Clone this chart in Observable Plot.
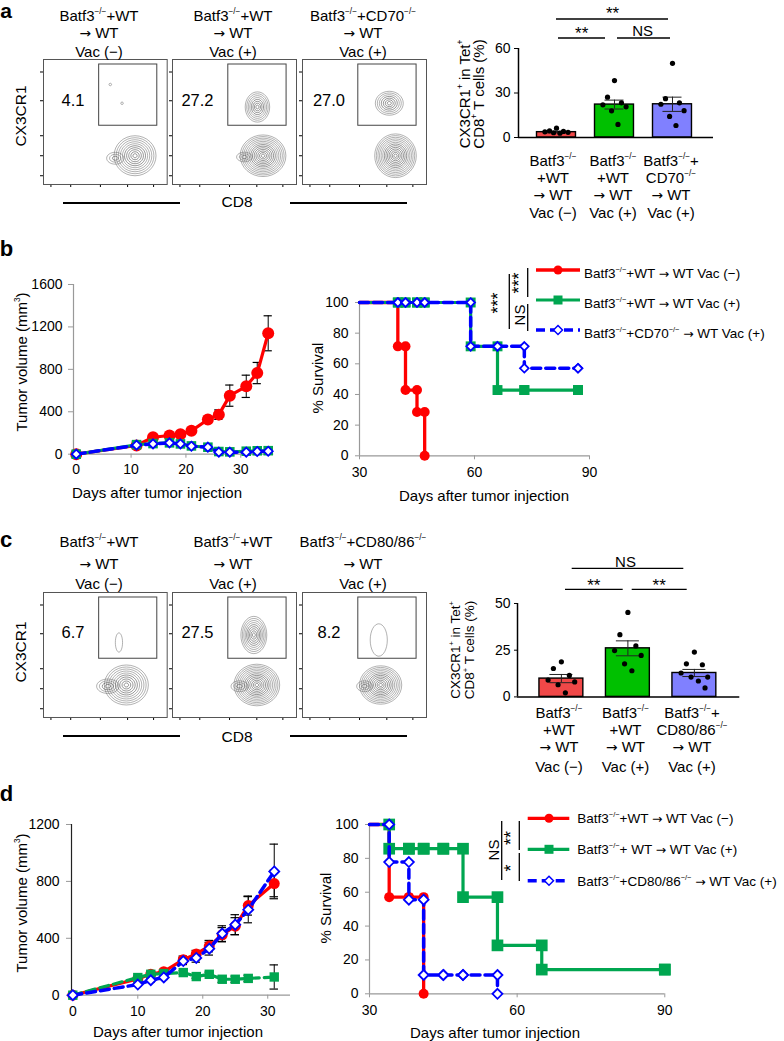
<!DOCTYPE html>
<html><head><meta charset="utf-8">
<script src="https://cdn.jsdelivr.net/npm/d3@7"></script>
<script src="https://cdn.jsdelivr.net/npm/@observablehq/plot@0.6"></script>
<style>
html,body{margin:0;padding:0;background:#fff}
#fig{position:relative;width:784px;height:1041px;overflow:hidden;background:#fff;font-family:"Liberation Sans",Arial,Helvetica,sans-serif;color:#000}
.t{position:absolute;white-space:nowrap;line-height:1}
.sp{font-size:55%;vertical-align:0.8em;line-height:0}
.ar{font-family:"DejaVu Sans",sans-serif;font-size:92%}
.gax text{fill:#000}
</style></head><body><div id="fig"></div>
<script>
const F = '"Liberation Sans", Arial, Helvetica, sans-serif';
const sup = s => `<span class="sp">${s}</span>`;
const AR = '<span class="ar">→</span>';
const KO = "−/−";

// ---------------- DATA ----------------
// Flow plots (panels a and c)
const flowPctA = ["4.1", "27.2", "27.0"];
const flowPctC = ["6.7", "27.5", "8.2"];
const gateX = [45, 92];
const gateY = [47, 96];
const flowTicksX = [6, 22, 46, 68, 89];
const flowTicksY = [7, 23, 39, 67, 90];
// contour populations: [x, y, rings, ring step (px), aspect x, aspect y]
const flowPopsA = [
  [[74, 23, 10, 2.0, 1.05, 1], [58, 21, 3, 2.2, 1.3, 0.9], [54, 80, 1, 1.3, 1, 1], [63.5, 65, 1, 1.3, 1, 1]],
  [[73, 23, 13, 1.6, 1.1, 1], [58, 22, 3, 2.0, 1.3, 0.8], [68.5, 62, 8, 1.8, 0.85, 1.05]],
  [[75, 23, 13, 1.6, 1.0, 1.05], [70, 65, 7, 1.9, 1.05, 0.9]]
];
const flowPopsC = [
  [[67, 26, 10, 2.0, 1.1, 1], [52, 25, 4, 2.0, 1.4, 0.9], [61, 60, 1, 6, 0.6, 1.6]],
  [[68, 26, 13, 1.6, 1.1, 1], [54, 25, 3, 2.0, 1.4, 0.9], [65.6, 66, 9, 1.8, 0.8, 1.15]],
  [[63, 26, 12, 1.6, 1.1, 1], [50, 25, 3, 2.0, 1.3, 0.9], [61.5, 62, 1, 9, 0.95, 1.8]]
];

// Bar charts
const barFill = ["#F04848", "#00C000", "#8080FF"];
const meanA = [3.6, 22.2, 22.4];
const semA = [0.5, 3.0, 4.8];
const dotsA = [
  [6.3, 4.5, 4.1, 3.8, 3.5, 3.2, 2.9],
  [38.4, 27.2, 23.4, 22.0, 20.7, 18.0, 8.8],
  [50.0, 26.2, 23.4, 22.4, 18.1, 14.2, 8.1]
];
const meanC = [9.8, 26.0, 12.8];
const semC = [2.2, 4.0, 1.9];
const dotsC = [
  [18.8, 15.2, 11.5, 9.0, 8.0, 6.5, 2.2],
  [45.2, 33.3, 27.3, 24.8, 22.2, 17.7, 14.0],
  [24.0, 17.7, 17.2, 12.8, 10.6, 10.6, 8.5, 4.8]
];

// Tumor growth (panel b)
const bDays = [0, 11, 14, 17, 19, 21, 24, 26, 28, 31, 33, 35];
const bRed = [0, 82, 160, 176, 188, 220, 327, 373, 552, 640, 765, 1140];
const bRedSem = [0, 10, 15, 15, 20, 25, 25, 45, 100, 105, 100, 165];
const bGreen = [0, 90, 100, 107, 97, 78, 66, 25, 22, 28, 32, 33];
const bBlue = [0, 85, 97, 107, 97, 75, 66, 19, 19, 19, 25, 28];

// Tumor growth (panel d)
const dDays = [0, 10, 12, 14, 17, 19, 21, 23, 25, 27, 31];
const dRed = [0, 115, 148, 165, 250, 290, 345, 425, 485, 630, 785];
const dRedSem = [0, 10, 15, 15, 25, 25, 40, 50, 60, 67, 93];
const dGreen = [0, 124, 147, 152, 159, 131, 147, 112, 112, 118, 128];
const dGreenSem = [0, 10, 10, 10, 12, 12, 15, 22, 22, 22, 85];
const dBlue = [0, 75, 105, 125, 240, 262, 327, 433, 496, 601, 870];
const dBlueSem = [0, 10, 15, 15, 25, 30, 45, 55, 70, 92, 192];

// Survival (panel b)
const bSurvDays = [40, 42, 45, 47, 59, 66, 73, 87];
const bSurvRed = [71.4, 42.9, 28.6, 0, null, null, null, null];
const bSurvGreen = [100, 100, 100, 100, 71.4, 42.9, 42.9, 42.9];
const bSurvBlue = [100, 100, 100, 100, 71.4, 71.4, 57.1, 57.1];
// Survival (panel d)
const dSurvDays = [34, 38, 41, 45, 49, 56, 65, 90];
const dSurvRed = [57.1, 57.1, 0, null, null, null, null, null];
const dSurvGreen = [85.7, 85.7, 85.7, 85.7, 57.1, 28.6, 14.3, 14.3];
const dSurvBlue = [77.8, 55.6, 11.1, 11.1, 11.1, 0, null, null];

const RED = "#FF0000", GREEN = "#00A650", BLUE = "#0000FF";

// ---------------- HELPERS ----------------
const fig = document.getElementById("fig");
function text(html, x, y, o = {}) {
  const d = document.createElement("div");
  d.className = "t";
  d.innerHTML = html;
  d.style.left = x + "px";
  d.style.top = y + "px";
  d.style.fontSize = (o.size || 15) + "px";
  if (o.bold) d.style.fontWeight = "bold";
  const ax = o.anchor === "start" ? "0" : o.anchor === "end" ? "-100%" : "-50%";
  d.style.transform = `translate(${ax},-50%)` + (o.rotate ? ` rotate(${o.rotate}deg)` : "");
  fig.appendChild(d);
}
function mkPlot(box, M, opts, cls) {
  const [ml, mr, mt, mb] = M;
  const w = box.x1 - box.x0, h = box.y1 - box.y0;
  const svg = Plot.plot(Object.assign({
    width: w + ml + mr, height: h + mt + mb,
    marginLeft: ml, marginRight: mr, marginTop: mt, marginBottom: mb,
    style: {fontFamily: F, fontSize: "14px", color: cls ? "#999" : "#000", background: "transparent", overflow: "visible"}
  }, opts));
  if (cls) svg.classList.add(cls);
  svg.style.position = "absolute";
  svg.style.left = (box.x0 - ml) + "px";
  svg.style.top = (box.y0 - mt) + "px";
  fig.appendChild(svg);
  return svg;
}
const ellipseSym = (ax, ay) => ({
  draw(ctx, size) {
    const r = Math.sqrt(size / Math.PI), rx = r * ax, ry = r * ay, k = 0.5523;
    ctx.moveTo(rx, 0);
    ctx.bezierCurveTo(rx, ry * k, rx * k, ry, 0, ry);
    ctx.bezierCurveTo(-rx * k, ry, -rx, ry * k, -rx, 0);
    ctx.bezierCurveTo(-rx, -ry * k, -rx * k, -ry, 0, -ry);
    ctx.bezierCurveTo(rx * k, -ry, rx, -ry * k, rx, 0);
    ctx.closePath();
  }
});

// overlay svg for brackets, legends and decoration lines
const NS = "http://www.w3.org/2000/svg";
const ov = document.createElementNS(NS, "svg");
ov.setAttribute("width", 784); ov.setAttribute("height", 1041);
ov.style.position = "absolute"; ov.style.left = "0"; ov.style.top = "0";
function seg(x1, y1, x2, y2, w = 1.3, c = "#000", dash) {
  const l = document.createElementNS(NS, "line");
  l.setAttribute("x1", x1); l.setAttribute("y1", y1); l.setAttribute("x2", x2); l.setAttribute("y2", y2);
  l.setAttribute("stroke", c); l.setAttribute("stroke-width", w);
  if (dash) l.setAttribute("stroke-dasharray", dash);
  ov.appendChild(l);
}
function marker(x, y, kind) {
  let e;
  if (kind === "circle") {
    e = document.createElementNS(NS, "circle");
    e.setAttribute("cx", x); e.setAttribute("cy", y); e.setAttribute("r", 4.5); e.setAttribute("fill", RED);
  } else if (kind === "square") {
    e = document.createElementNS(NS, "rect");
    e.setAttribute("x", x - 4.5); e.setAttribute("y", y - 4.5); e.setAttribute("width", 9); e.setAttribute("height", 9); e.setAttribute("fill", GREEN);
  } else {
    e = document.createElementNS(NS, "polygon");
    e.setAttribute("points", `${x},${y - 4.5} ${x + 4.5},${y} ${x},${y + 4.5} ${x - 4.5},${y}`);
    e.setAttribute("fill", "#fff"); e.setAttribute("stroke", BLUE); e.setAttribute("stroke-width", 1.5);
  }
  ov.appendChild(e);
}

// ---------------- FLOW PLOTS ----------------
function flowPlot(box, pops) {
  const marks = [Plot.frame({stroke: "#555", strokeWidth: 1})];
  marks.push(Plot.rect([0], {x1: gateX[0], x2: gateX[1], y1: gateY[0], y2: gateY[1], fill: "none", stroke: "#444", strokeWidth: 1}));
  pops.forEach(p => {
    const [x, y, n, step, ax, ay] = p;
    for (let k = 1; k <= n; k++) {
      marks.push(Plot.dot([p], {x: () => x, y: () => y, r: k * step, symbol: ellipseSym(ax, ay), fill: "none",
        stroke: k < n * 0.6 ? "#333" : "#666", strokeWidth: 0.6, strokeOpacity: 0.85}));
    }
  });
  mkPlot(box, [5, 2, 2, 5], {
    x: {domain: [0, 100], ticks: flowTicksX, tickSize: 3, tickFormat: () => "", label: null},
    y: {domain: [0, 100], ticks: flowTicksY, tickSize: 3, tickFormat: () => "", label: null},
    marks
  });
}
const flowX = [[43.3, 167], [172, 296], [302, 426]];
flowX.forEach((fx, i) => flowPlot({x0: fx[0], x1: fx[1], y0: 59, y1: 184}, flowPopsA[i]));
flowX.forEach((fx, i) => flowPlot({x0: fx[0], x1: fx[1], y0: 592, y1: 717}, flowPopsC[i]));
const pctX = [73, 197.5, 329];
flowPctA.forEach((p, i) => text(p, pctX[i], 100, {size: 16.5}));
flowPctC.forEach((p, i) => text(p, pctX[i], 632, {size: 16.5}));

const titleX = [99, 233, 363];
const titlesA = [
  ["Batf3" + sup(KO) + "+WT", AR + " WT", "Vac (−)"],
  ["Batf3" + sup(KO) + "+WT", AR + " WT", "Vac (+)"],
  ["Batf3" + sup(KO) + "+CD70" + sup(KO), AR + " WT", "Vac (+)"]
];
const titlesC = [
  ["Batf3" + sup(KO) + "+WT", AR + " WT", "Vac (−)"],
  ["Batf3" + sup(KO) + "+WT", AR + " WT", "Vac (+)"],
  ["Batf3" + sup(KO) + "+CD80/86" + sup(KO), AR + " WT", "Vac (+)"]
];
const titleYA = [15, 32.5, 51];
const titleYC = [541, 564, 583];
titlesA.forEach((t, i) => t.forEach((s, j) => text(s, titleX[i], titleYA[j], {size: 15})));
titlesC.forEach((t, i) => t.forEach((s, j) => text(s, titleX[i], titleYC[j], {size: 15})));
text("CX3CR1", 21, 116, {size: 15.5, rotate: -90});
text("CX3CR1", 21, 652, {size: 15.5, rotate: -90});
text("CD8", 237, 202, {size: 15.5});
text("CD8", 237, 737, {size: 15.5});
seg(63, 203, 180, 203, 2); seg(290, 203, 407, 203, 2);
seg(63, 736, 180, 736, 2); seg(290, 736, 407, 736, 2);

// ---------------- BAR CHARTS ----------------
function barChart(box, yMax, yTicks, means, sems, dots, step, off, half, cap, tk) {
  const xmax = (box.x1 - box.x0) / step;
  const bars = means.map((m, i) => ({i, m, s: sems[i], c: barFill[i]}));
  const pts = dots.flatMap((a, i) => a.map((v, j) => ({i, v, j})));
  const jit = [0, -0.12, 0.12, -0.2, 0.2, -0.05, 0.06, 0.16];
  const cx = d => d.i + off;
  mkPlot(box, [40, 5, 6, 5], {
    x: {domain: [0, xmax], axis: null},
    y: {domain: [0, yMax], ticks: yTicks, tickSize: tk[0], tickPadding: tk[1], tickFormat: d => String(d), label: null},
    color: {type: "identity"},
    marks: [
      Plot.rectY(bars, {x1: d => cx(d) - half, x2: d => cx(d) + half, y1: 0, y2: "m", fill: "c", stroke: "#000", strokeWidth: 1.4}),
      Plot.ruleX(bars, {x: cx, y1: d => d.m - d.s, y2: d => d.m + d.s, stroke: "#222", strokeWidth: 1}),
      Plot.ruleY(bars, {y: d => d.m + d.s, x1: d => cx(d) - cap, x2: d => cx(d) + cap, stroke: "#222", strokeWidth: 1}),
      Plot.ruleY(bars, {y: d => d.m - d.s, x1: d => cx(d) - cap, x2: d => cx(d) + cap, stroke: "#222", strokeWidth: 1}),
      Plot.dot(pts, {x: d => cx(d) + jit[d.j], y: "v", r: 2.6, fill: "#000"}),
      Plot.ruleX([0], {stroke: "#000", strokeWidth: 1.5}),
      Plot.ruleY([0], {stroke: "#000", strokeWidth: 1.5})
    ]
  });
}
barChart({x0: 518, x1: 713, y0: 48, y1: 137}, 60, [0, 30, 60], meanA, semA, dotsA, 58, 0.655, 0.336, 0.164, [4, 4]);
barChart({x0: 516.7, x1: 739, y0: 603.3, y1: 696.7}, 50, [0, 25, 50], meanC, semC, dotsC, 66.5, 0.66, 0.33, 0.173, [3, 4]);

// bar-chart text
const catA = [
  ["Batf3" + sup(KO), "+WT", AR + " WT", "Vac (−)"],
  ["Batf3" + sup(KO), "+WT", AR + " WT", "Vac (+)"],
  ["Batf3" + sup(KO) + "+", "CD70" + sup(KO), AR + " WT", "Vac (+)"]
];
const catC = [
  ["Batf3" + sup(KO), "+WT", AR + " WT", "Vac (−)"],
  ["Batf3" + sup(KO), "+WT", AR + " WT", "Vac (+)"],
  ["Batf3" + sup(KO) + "+", "CD80/86" + sup(KO), AR + " WT", "Vac (+)"]
];
const catAX = [553, 613, 671], catAY = [159.5, 177, 194.5, 212];
const catCX = [559, 625.5, 692], catCY = [711.7, 729.3, 747, 765.5];
catA.forEach((c, i) => c.forEach((s, j) => text(s, catAX[i], catAY[j], {size: 15})));
catC.forEach((c, i) => c.forEach((s, j) => text(s, catCX[i], catCY[j], {size: 15})));
text("CX3CR1" + sup("+") + " in Tet" + sup("+"), 463.5, 94, {size: 15, rotate: -90});
text("CD8" + sup("+") + " T cells (%)", 478, 94, {size: 15, rotate: -90});
text("CX3CR1" + sup("+") + " in Tet" + sup("+"), 456, 650, {size: 13.5, rotate: -90});
text("CD8" + sup("+") + " T cells (%)", 470, 650, {size: 13.5, rotate: -90});
// significance brackets
seg(556, 19, 668, 19); seg(558, 38, 605, 38); seg(617, 38, 670, 38);
text("**", 612.5, 13, {size: 17});
text("**", 581.7, 33, {size: 17});
text("NS", 642.7, 29.5, {size: 15});
seg(571.7, 568.3, 683.3, 568.3); seg(565, 589.3, 622.7, 589.3); seg(631.7, 589.3, 686.7, 589.3);
text("NS", 625.5, 561, {size: 15});
text("**", 593.8, 585, {size: 17});
text("**", 659.2, 585, {size: 17});

// ---------------- LINE CHARTS ----------------
function xyChart(box, xDom, yDom, xTicks, yTicks, tkY, tkX, series, axisCol) {
  const marks = [
    Plot.ruleY([yDom[0]], {stroke: axisCol.x, strokeWidth: 1.2}),
    Plot.ruleX([xDom[0]], {stroke: axisCol.y, strokeWidth: 1.2})
  ];
  series.forEach(s => {
    if (!s.e) return;
    const ep = s.x.map((x, i) => ({x, y: s.y[i], e: s.e[i]})).filter(d => d.e > 0);
    marks.push(Plot.ruleX(ep, {x: "x", y1: d => d.y - d.e, y2: d => d.y + d.e, stroke: "#000", strokeWidth: 1}));
    marks.push(Plot.ruleY(ep, {y: d => d.y + d.e, x1: d => d.x - s.cap, x2: d => d.x + s.cap, stroke: "#000", strokeWidth: 1.2}));
    marks.push(Plot.ruleY(ep, {y: d => d.y - d.e, x1: d => d.x - s.cap, x2: d => d.x + s.cap, stroke: "#000", strokeWidth: 1.2}));
  });
  series.forEach(s => {
    const pts = s.x.map((x, i) => ({x, y: s.y[i]})).filter(d => d.y != null);
    marks.push(Plot.line(pts, {x: "x", y: "y", stroke: s.color, strokeWidth: s.w, strokeDasharray: s.dash}));
    const mp = s.skipFirst ? pts.slice(1) : pts;
    marks.push(Plot.dot(mp, {x: "x", y: "y", symbol: s.symbol, r: s.r, fill: s.fill, stroke: s.stroke || "none", strokeWidth: s.sw || 0}));
  });
  mkPlot(box, [55, 10, 10, 30], {
    x: {domain: xDom, ticks: xTicks, tickSize: tkX[0], tickPadding: tkX[1], tickFormat: d => String(d), label: null},
    y: {domain: yDom, ticks: yTicks, tickSize: tkY[0], tickPadding: tkY[1], tickFormat: d => String(d), label: null},
    marks
  }, "gax");
}
function steps(start, days, vals) {
  const xs = [start], ys = [100];
  let prev = 100;
  days.forEach((t, i) => {
    const v = vals[i];
    if (v == null) return;
    xs.push(t, t); ys.push(prev, v);
    prev = v;
  });
  return {x: xs, y: ys};
}

// Panel b tumor
xyChart({x0: 73.3, x1: 273.5, y0: 284, y1: 453.7}, [-0.5, 36], [0, 1600], [0, 10, 20, 30], [0, 400, 800, 1200, 1600],
  [5, 6], [4, 6], [
    {x: bDays, y: bRed, e: bRedSem, cap: 0.75, color: RED, w: 3.2, symbol: "circle", r: 6, fill: RED},
    {x: bDays, y: bGreen, color: GREEN, w: 3, symbol: "square", r: 5.4, fill: GREEN},
    {x: bDays, y: bBlue, color: BLUE, w: 3.5, dash: "9,5", symbol: "diamond2", r: 4.1, fill: "#fff", stroke: BLUE, sw: 1.8}
  ], {x: "#999", y: "#999"});

// Panel d tumor
xyChart({x0: 71, x1: 290, y0: 824.3, y1: 995}, [-0.2, 33.5], [0, 1200], [0, 10, 20, 30], [0, 400, 800, 1200],
  [5, 7], [4, 7], [
    {x: dDays, y: dRed, e: dRedSem, cap: 0.65, color: RED, w: 3.2, symbol: "circle", r: 5.5, fill: RED},
    {x: dDays, y: dGreen, e: dGreenSem, cap: 0.65, color: GREEN, w: 3.2, dash: "9,5", symbol: "square", r: 5.3, fill: GREEN},
    {x: dDays, y: dBlue, e: dBlueSem, cap: 0.65, color: BLUE, w: 3.5, dash: "9,5", symbol: "diamond2", r: 4.5, fill: "#fff", stroke: BLUE, sw: 1.8}
  ], {x: "#999", y: "#222"});

// Panel b survival
const bR = steps(30, bSurvDays, bSurvRed), bG = steps(30, bSurvDays, bSurvGreen), bB = steps(30, bSurvDays, bSurvBlue);
xyChart({x0: 358.7, x1: 588.7, y0: 301.7, y1: 455}, [30, 90], [0, 100], [30, 60, 90], [0, 20, 40, 60, 80, 100],
  [4, 7], [4, 7], [
    {x: bR.x, y: bR.y, skipFirst: true, color: RED, w: 3.3, symbol: "circle", r: 5, fill: RED},
    {x: bG.x, y: bG.y, skipFirst: true, color: GREEN, w: 3.2, symbol: "square", r: 5.6, fill: GREEN},
    {x: bB.x, y: bB.y, skipFirst: true, color: BLUE, w: 3.5, dash: "9,5", symbol: "diamond2", r: 3.9, fill: "#fff", stroke: BLUE, sw: 1.8}
  ], {x: "#999", y: "#999"});

// Panel d survival
const dR = steps(30, dSurvDays, dSurvRed), dG = steps(30, dSurvDays, dSurvGreen), dB = steps(30, dSurvDays, dSurvBlue);
xyChart({x0: 369, x1: 664.3, y0: 824, y1: 993.3}, [30, 90], [0, 100], [30, 60, 90], [0, 20, 40, 60, 80, 100],
  [4, 7], [4, 7], [
    {x: dR.x, y: dR.y, skipFirst: true, color: RED, w: 3.3, symbol: "circle", r: 5, fill: RED},
    {x: dG.x, y: dG.y, skipFirst: true, color: GREEN, w: 3.2, symbol: "square", r: 6.6, fill: GREEN},
    {x: dB.x, y: dB.y, skipFirst: true, color: BLUE, w: 3.5, dash: "9,5", symbol: "diamond2", r: 4.5, fill: "#fff", stroke: BLUE, sw: 1.8}
  ], {x: "#999", y: "#999"});

// axis labels
text("Tumor volume (mm" + sup("3") + ")", 20.7, 362, {size: 15, rotate: -90});
text("Days after tumor injection", 157, 492, {size: 15});
text("% Survival", 317.3, 378, {size: 15, rotate: -90});
text("Days after tumor injection", 484, 494.5, {size: 15});
text("Tumor volume (mm" + sup("3") + ")", 21, 903, {size: 15, rotate: -90});
text("Days after tumor injection", 178, 1031, {size: 15});
text("% Survival", 325, 907.5, {size: 15, rotate: -90});
text("Days after tumor injection", 495, 1031.5, {size: 15});

// legends b
const legB = [
  ["Batf3" + sup(KO) + "+WT " + AR + " WT Vac (−)", RED, null, "circle", 3.3],
  ["Batf3" + sup(KO) + "+WT " + AR + " WT Vac (+)", GREEN, null, "square", 3.2],
  ["Batf3" + sup(KO) + "+CD70" + sup(KO) + " " + AR + " WT Vac (+)", BLUE, "9,5", "diamond", 3.5]
];
const legBY = [270, 300, 330];
legB.forEach((l, i) => {
  seg(536, legBY[i], 580, legBY[i], l[4], l[1], l[2]);
  marker(558, legBY[i], l[3]);
  text(l[0], 584, legBY[i] + 4, {size: 13.5, anchor: "start"});
});
const legD = [
  ["Batf3" + sup(KO) + "+WT " + AR + " WT Vac (−)", RED, null, "circle", 3.3],
  ["Batf3" + sup(KO) + "+ WT " + AR + " WT Vac (+)", GREEN, null, "square", 3.2],
  ["Batf3" + sup(KO) + "+CD80/86" + sup(KO) + " " + AR + " WT Vac (+)", BLUE, "9,5", "diamond", 3.5]
];
const legDY = [818.3, 849.3, 880.7];
legD.forEach((l, i) => {
  seg(527.7, legDY[i], 569.3, legDY[i], l[4], l[1], l[2]);
  marker(549, legDY[i], l[3]);
  text(l[0], 577.3, legDY[i] + 1, {size: 13.5, anchor: "start"});
});
// survival significance
seg(509.3, 274, 509.3, 329); seg(527.7, 268, 527.7, 297); seg(527.7, 304, 527.7, 331);
text("***", 498.3, 303.3, {size: 18, rotate: -90});
text("***", 519.3, 283.3, {size: 18, rotate: -90});
text("NS", 519.3, 315, {size: 15, rotate: -90});
seg(501.7, 821, 501.7, 880); seg(519.3, 821, 519.3, 850); seg(519.3, 853, 519.3, 881);
text("NS", 493.3, 850, {size: 15, rotate: -90});
text("**", 511, 837.7, {size: 18, rotate: -90});
text("*", 511, 867.7, {size: 18, rotate: -90});

// panel letters
text("a", 6, 10, {size: 21, bold: true});
text("b", 6.5, 249, {size: 22, bold: true});
text("c", 6, 540, {size: 22, bold: true});
text("d", 6.5, 794, {size: 22, bold: true});

fig.appendChild(ov);
</script></body></html>
